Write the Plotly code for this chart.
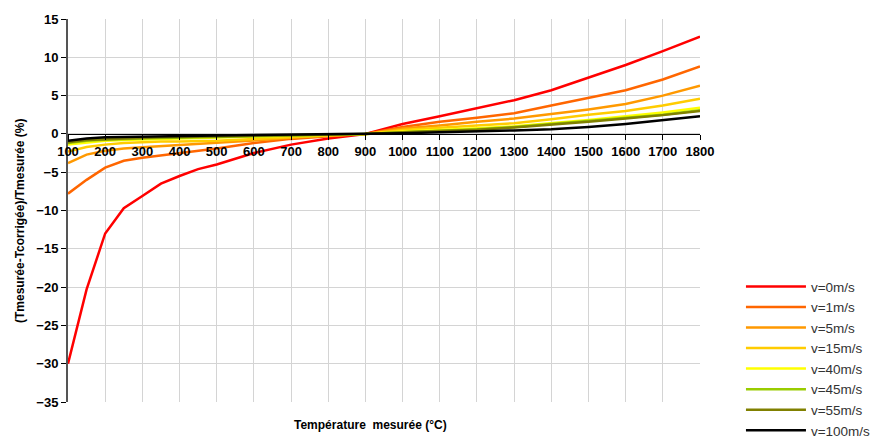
import plotly.graph_objects as go

temps = [100, 150, 200, 250, 300, 350, 400, 450, 500, 600, 700, 800, 900,
         1000, 1100, 1200, 1300, 1400, 1500, 1600, 1700, 1800]

v0 = [-30, -20.3, -13, -9.7, -8.1, -6.5, -5.5, -4.6, -4.0, -2.5, -1.4, -0.6, 0,
      1.3, 2.3, 3.3, 4.4, 5.7, 7.3, 9.0, 10.8, 12.7]
v1 = [-7.8, -6.0, -4.4, -3.5, -3.1, -2.8, -2.5, -2.2, -1.9, -1.2, -0.65, -0.3, 0,
      0.9, 1.6, 2.1, 2.7, 3.7, 4.7, 5.7, 7.1, 8.8]
v5 = [-3.8, -2.7, -2.2, -1.9, -1.75, -1.6, -1.45, -1.3, -1.2, -0.85, -0.5, -0.2, 0,
      0.7, 1.1, 1.6, 2.0, 2.6, 3.2, 3.9, 5.0, 6.3]
v15 = [-2.3, -1.7, -1.4, -1.2, -1.1, -1.0, -1.0, -0.95, -0.9, -0.65, -0.4, -0.2, 0,
       0.5, 0.8, 1.1, 1.4, 1.9, 2.5, 3.0, 3.7, 4.6]
v40 = [-1.4, -1.1, -0.9, -0.8, -0.7, -0.65, -0.6, -0.55, -0.5, -0.4, -0.25, -0.1, 0,
       0.3, 0.5, 0.75, 1.0, 1.4, 1.8, 2.3, 2.8, 3.4]
v45 = [-1.2, -0.9, -0.75, -0.65, -0.6, -0.55, -0.5, -0.45, -0.4, -0.3, -0.2, -0.1, 0,
       0.2, 0.4, 0.6, 0.9, 1.3, 1.7, 2.1, 2.5, 3.1]
v55 = [-1.1, -0.8, -0.7, -0.6, -0.5, -0.45, -0.4, -0.35, -0.3, -0.25, -0.15, -0.05, 0,
       0.2, 0.35, 0.55, 0.85, 1.2, 1.6, 2.0, 2.45, 3.0]
v100 = [-0.9, -0.6, -0.45, -0.4, -0.35, -0.3, -0.25, -0.25, -0.2, -0.15, -0.1, -0.05, 0,
        0.1, 0.2, 0.3, 0.45, 0.6, 0.9, 1.3, 1.8, 2.3]

series_names = ["v=0m/s", "v=1m/s", "v=5m/s", "v=15m/s", "v=40m/s", "v=45m/s", "v=55m/s", "v=100m/s"]
series_values = [v0, v1, v5, v15, v40, v45, v55, v100]
series_colors = ["#ff0000", "#ff6600", "#ff9900", "#ffcc00", "#ffff00", "#99cc00", "#808000", "#000000"]

fig = go.Figure()
for name, vals, col in zip(series_names, series_values, series_colors):
    fig.add_trace(go.Scatter(x=temps, y=vals, mode="lines", name=name,
                             line=dict(color=col, width=2.5)))

font_family = "Liberation Sans, Arial, sans-serif"

fig.update_layout(
    width=880, height=438,
    margin=dict(l=68, r=180, t=19, b=36),
    paper_bgcolor="white", plot_bgcolor="white",
    font=dict(family=font_family, color="black"),
    showlegend=True,
    legend=dict(xref="container", yref="container", x=0.842, y=0.381,
                xanchor="left", yanchor="top",
                font=dict(size=13.5, family=font_family, color="#333333"),
                tracegroupgap=0, itemwidth=60, bgcolor="rgba(0,0,0,0)"),
    xaxis=dict(range=[100, 1800], dtick=100, tick0=100,
               showgrid=True, gridcolor="#d4d4d4", gridwidth=1,
               showline=True, linecolor="black", linewidth=1,
               ticks="outside", ticklen=5, tickcolor="black",
               anchor="free", position=0.7, automargin=False,
               tickfont=dict(size=13, family=font_family, color="black", weight="bold"),
               zeroline=False),
    yaxis=dict(range=[-35, 15], dtick=5, automargin=False,
               showgrid=True, gridcolor="#d4d4d4", gridwidth=1,
               showline=True, linecolor="#555555", linewidth=2,
               ticks="outside", ticklen=5, tickcolor="black",
               zeroline=False,
               tickfont=dict(size=13, family=font_family, color="black", weight="bold")),
    annotations=[
        dict(text="Température  mesurée (°C)", xref="paper", yref="paper",
             x=0.478, y=-0.06, xanchor="center", yanchor="middle", showarrow=False,
             font=dict(size=12, family=font_family, color="black", weight="bold")),
        dict(text="(Tmesurée-Tcorrigée)/Tmesurée (%)", xref="paper", yref="paper",
             x=-0.076, y=0.475, xanchor="center", yanchor="middle", showarrow=False,
             textangle=-90,
             font=dict(size=12, family=font_family, color="black", weight="bold")),
    ],
)

fig.write_html("out.html", config={"displayModeBar": False},
               post_script="document.body.style.margin='0';")
